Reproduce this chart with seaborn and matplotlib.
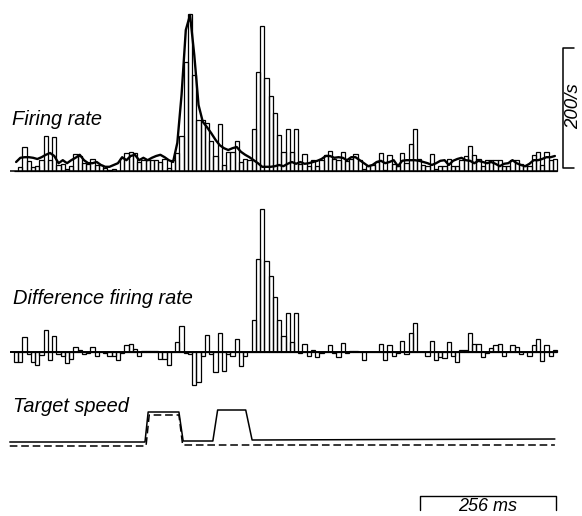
import numpy as np
import pandas as pd
import matplotlib
matplotlib.use("Agg")
import matplotlib.pyplot as plt
import seaborn as sns

# ---------------- data ----------------
BIN_MS = 8
N_BINS = 128

# firing-rate histogram (spikes/s), one value per 8 ms bin
firing_rate = [0, 6, 40, 17, 6, 8, 18, 58, 18, 56,
               10, 11, 3, 8, 28, 25, 14, 11, 20, 10,
               10, 5, 2, 4, 0, 22, 30, 32, 30, 15,
               18, 18, 18, 18, 15, 20, 5, 18, 30, 58,
               182, 262, 160, 85, 85, 80, 50, 25, 78, 10,
               32, 32, 50, 15, 20, 18, 70, 165, 242, 155,
               125, 97, 60, 32, 70, 32, 70, 12, 28, 8,
               18, 8, 19, 27, 33, 20, 18, 32, 17, 20,
               28, 18, 3, 8, 10, 15, 30, 2, 26, 11,
               8, 30, 14, 45, 70, 20, 10, 8, 28, 3,
               8, 8, 20, 8, 8, 19, 25, 42, 27, 20,
               8, 19, 19, 19, 19, 8, 8, 19, 19, 12,
               8, 8, 27, 32, 10, 32, 19, 20]

# control firing rate (line), spikes/s
control_rate = [15, 22, 23, 23, 22, 20, 23, 27, 30, 25,
                13, 18, 13, 18, 22, 27, 18, 13, 13, 15,
                10, 7, 7, 10, 13, 23, 18, 25, 27, 18,
                22, 18, 22, 25, 27, 23, 18, 15, 47, 127,
                235, 260, 193, 110, 82, 73, 63, 52, 43, 38,
                35, 38, 40, 32, 27, 23, 18, 13, 7, 7,
                7, 8, 10, 8, 12, 15, 12, 15, 12, 13,
                15, 17, 20, 25, 25, 22, 23, 22, 18, 23,
                23, 18, 13, 8, 10, 15, 17, 13, 15, 18,
                8, 17, 18, 18, 18, 17, 15, 13, 10, 13,
                17, 18, 10, 17, 20, 22, 18, 17, 13, 17,
                15, 13, 15, 12, 8, 12, 13, 18, 13, 10,
                8, 12, 18, 18, 20, 23, 23, 25]

# difference firing rate (spikes/s)
diff_rate = [-17, -17, 25, -3, -17, -22, -5, 36, -14, 27,
             -3, -7, -19, -11, 8, 4, -4, -2, 8, -6,
             0, -2, -6, -6, -13, -2, 11, 13, 5, -7,
             2, 2, 2, 2, -11, -11, -22, 0, 17, 44,
             -1, -3, -55, -50, -7, 29, -3, -33, 32, -31,
             -3, -6, 22, -23, -7, 0, 53, 155, 238, 152,
             127, 91, 54, 26, 65, 16, 65, -1, 14, -6,
             3, -9, -1, 0, 12, -1, -8, 15, -1, 1,
             1, 0, -14, 0, 0, 0, 13, -14, 11, -7,
             -2, 18, -4, 31, 49, 0, 0, -7, 18, -14,
             -9, -10, 17, -7, -16, 3, 4, 31, 14, 14,
             -8, -1, 6, 12, 14, -6, 0, 12, 8, -4,
             0, -7, 12, 22, -15, 12, -7, 3]

# target speed traces (arbitrary units) vs time (ms)
speed_t_solid = [-8, 247, 253, 311, 319, 375, 384, 437, 449, 1020]
speed_solid = [-1, -1, 29, 29, 0, 0, 31, 31, 1, 2]
speed_t_dashed = [-8, 249, 255, 311, 318, 1020]
speed_dashed = [-5, -5, 26, 26, -4, -4]

label_rate = "Firing rate"
label_diff = "Difference firing rate"
label_speed = "Target speed"
scale_rate_value = 200
scale_rate_label = "200/s"
scale_time_value = 256
scale_time_label = "256 ms"

# ---------------- layout ----------------
W, H = 582, 516
X0 = 14.0
PX_PER_MS = 543.0 / (N_BINS * BIN_MS)

sns.set_style("white")
plt.rcParams['font.family'] = ['Liberation Sans', 'DejaVu Sans']
plt.rcParams['text.color'] = 'black'

fig = plt.figure(figsize=(W / 100, H / 100), dpi=100)


def px_axes(top, bottom, base, k):
    ax = fig.add_axes([0, 1 - bottom / H, 1, (bottom - top) / H])
    ax.patch.set_visible(False)
    return ax, (-(bottom - base) / k, (base - top) / k)


def finish(ax, ylim):
    ax.set_xlim(-X0 / PX_PER_MS, (W - X0) / PX_PER_MS)
    ax.set_ylim(*ylim)
    ax.axis("off")


def ftext(x, y, s, **kw):
    fig.text(x / W, 1 - y / H, s, color="black", **kw)


centers = np.arange(N_BINS) * BIN_MS + BIN_MS / 2
df = pd.DataFrame({"t": centers, "rate": firing_rate,
                   "control": control_rate, "diff": diff_rate})
hist_kw = dict(binwidth=BIN_MS, binrange=(0, N_BINS * BIN_MS),
               element="bars", fill=False, color="black", linewidth=0.9)

# ---- panel 1 : firing rate ----
ax1, yl1 = px_axes(0, 200, 171, 0.6)
sns.histplot(data=df, x="t", weights="rate", ax=ax1, **hist_kw)
sns.lineplot(data=df, x="t", y="control", color="black", linewidth=1.7,
             ax=ax1)
ax1.hlines(0, -7, N_BINS * BIN_MS, color="black", linewidth=1.1)
# 200/s scale bar
sx = 1035
tick = 22
ax1.plot([sx + tick, sx, sx, sx + tick], [5, 5, 5 + scale_rate_value,
         5 + scale_rate_value], color="black", linewidth=1.1, clip_on=False)
finish(ax1, yl1)

# ---- panel 2 : difference ----
ax2, yl2 = px_axes(190, 400, 352, 0.6)
sns.histplot(data=df, x="t", weights="diff", ax=ax2, **hist_kw)
ax2.hlines(0, -7, N_BINS * BIN_MS, color="black", linewidth=1.4)
finish(ax2, yl2)

# ---- panel 3 : target speed ----
ax3, yl3 = px_axes(380, 516, 441, 1.0)
sns.lineplot(x=speed_t_solid, y=speed_solid, color="black", linewidth=1.1,
             ax=ax3)
sns.lineplot(x=speed_t_dashed, y=speed_dashed, color="black", linewidth=1.1,
             ax=ax3)
ax3.lines[-1].set_dashes([5, 2.5])
# 256 ms scale bar
tx0 = 766
ax3.plot([tx0, tx0, tx0 + scale_time_value, tx0 + scale_time_value],
         [-69, -55, -55, -69], color="black", linewidth=1.0, clip_on=False)
finish(ax3, yl3)

# ---- texts ----
lab = dict(fontsize=14.4, style="italic", ha="left", va="baseline")
ftext(12, 125, label_rate, **lab)
ftext(13, 304, label_diff, **lab)
ftext(13, 412, label_speed, **lab)
ftext(574, 106, scale_rate_label, fontsize=13.5, style="italic",
      rotation=90, ha="center", va="center")
bar_mid_px = X0 + (tx0 + scale_time_value / 2) * PX_PER_MS
ftext(bar_mid_px, 515, scale_time_label, fontsize=13, style="italic",
      ha="center", va="bottom")

fig.savefig("out.png", dpi=100)
